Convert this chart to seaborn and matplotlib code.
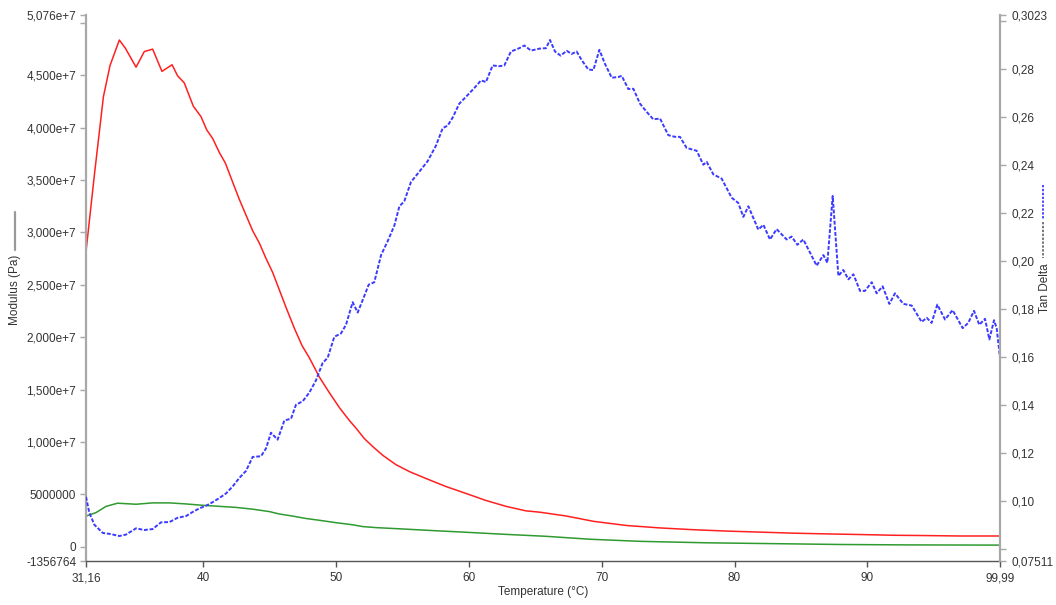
import numpy as np
import matplotlib
matplotlib.use("Agg")
import matplotlib.pyplot as plt
from matplotlib.lines import Line2D
from matplotlib.ticker import FixedLocator, FixedFormatter
import seaborn as sns

# ---------------- data ----------------
temp_storage = [31.16, 31.79, 32.47, 32.97, 33.67, 34.12, 34.93, 35.55, 36.18, 36.88,
                37.64, 38.06, 38.56, 39.24, 39.82, 40.25, 40.70, 41.20, 41.65, 42.20,
                42.71, 43.21, 43.71, 44.21, 44.72, 45.22, 45.72, 46.22, 46.85, 47.43,
                47.98, 48.73, 49.48, 50.24, 50.99, 51.49, 52.12, 52.75, 53.50, 54.50,
                55.51, 56.76, 58.27, 59.78, 61.28, 62.79, 64.29, 65.35, 67.36, 69.37,
                71.88, 74.39, 76.89, 79.40, 81.92, 84.43, 86.94, 89.45, 91.96, 94.47,
                96.98, 99.99]
storage_modulus = [28.17e6, 35.48e6, 42.95e6, 45.94e6, 48.37e6, 47.60e6, 45.78e6, 47.27e6, 47.50e6, 45.38e6,
                   46.01e6, 44.95e6, 44.28e6, 42.06e6, 41.06e6, 39.80e6, 38.97e6, 37.64e6, 36.64e6, 34.82e6,
                   33.15e6, 31.66e6, 30.17e6, 29.00e6, 27.51e6, 26.18e6, 24.52e6, 22.86e6, 20.86e6, 19.20e6,
                   18.04e6, 16.21e6, 14.72e6, 13.29e6, 12.06e6, 11.33e6, 10.33e6, 9.57e6, 8.74e6, 7.84e6,
                   7.18e6, 6.52e6, 5.75e6, 5.09e6, 4.42e6, 3.86e6, 3.43e6, 3.30e6, 2.93e6, 2.43e6,
                   2.03e6, 1.80e6, 1.63e6, 1.50e6, 1.40e6, 1.30e6, 1.23e6, 1.17e6, 1.10e6, 1.07e6,
                   1.03e6, 1.03e6]

temp_loss = [31.16, 31.91, 32.67, 33.54, 34.93, 36.18, 37.44, 38.69, 39.95, 41.20,
             42.46, 43.71, 44.97, 45.72, 46.72, 47.73, 48.73, 49.99, 51.24, 51.99,
             53.00, 55.01, 57.52, 60.03, 62.54, 65.80, 69.12, 72.88, 77.90, 82.92,
             87.94, 92.96, 99.99]
loss_modulus = [2.93e6, 3.26e6, 3.86e6, 4.16e6, 4.06e6, 4.19e6, 4.19e6, 4.09e6, 3.96e6, 3.86e6,
                3.76e6, 3.59e6, 3.36e6, 3.13e6, 2.93e6, 2.70e6, 2.53e6, 2.30e6, 2.10e6, 1.93e6,
                1.83e6, 1.70e6, 1.53e6, 1.37e6, 1.20e6, 1.00e6, 0.72e6, 0.52e6, 0.38e6, 0.30e6,
                0.22e6, 0.18e6, 0.16e6]

temp_tan = [31.16, 31.41, 31.79, 32.42, 33.04, 33.67, 34.17, 34.93, 35.55, 36.18,
            36.81, 37.44, 38.06, 38.69, 39.19, 39.69, 40.20, 40.70, 41.20, 41.70,
            42.20, 42.71, 43.21, 43.71, 44.34, 44.72, 45.09, 45.59, 46.10, 46.60,
            46.97, 47.48, 47.98, 48.48, 48.98, 49.36, 49.86, 50.36, 50.74, 51.24,
            51.62, 51.99, 52.45, 52.87, 53.38, 53.88, 54.38, 54.76, 55.13, 55.63,
            56.26, 56.89, 57.52, 58.02, 58.40, 58.77, 59.27, 59.78, 60.40, 60.91,
            61.28, 61.78, 62.29, 62.66, 63.16, 63.79, 64.17, 64.67, 65.30, 65.80,
            66.10, 66.48, 66.90, 67.36, 67.73, 68.11, 68.49, 68.99, 69.37, 69.82,
            70.24, 70.75, 71.25, 71.50, 72.00, 72.38, 72.88, 73.38, 73.88, 74.39,
            75.01, 75.52, 75.89, 76.39, 77.15, 77.65, 77.90, 78.40, 79.03, 79.78,
            80.28, 80.66, 81.04, 81.79, 82.17, 82.67, 83.17, 83.92, 84.30, 84.73,
            85.18, 86.18, 86.69, 86.99, 87.39, 87.82, 88.19, 88.57, 88.95, 89.45,
            89.82, 90.33, 90.70, 91.15, 91.66, 92.08, 92.71, 93.34, 94.09, 94.47,
            94.84, 95.27, 95.85, 96.42, 97.18, 97.60, 98.03, 98.43, 98.86, 99.19,
            99.54, 99.74, 99.99]
tan_delta = [0.1018, 0.0952, 0.0902, 0.0868, 0.0863, 0.0855, 0.0861, 0.0887, 0.0880, 0.0884,
             0.0912, 0.0913, 0.0931, 0.0938, 0.0955, 0.0970, 0.0981, 0.0996, 0.1013, 0.1032,
             0.1061, 0.1097, 0.1126, 0.1184, 0.1187, 0.1220, 0.1285, 0.1256, 0.1336, 0.1343,
             0.1401, 0.1416, 0.1452, 0.1503, 0.1575, 0.1597, 0.1684, 0.1698, 0.1734, 0.1828,
             0.1785, 0.1836, 0.1901, 0.1911, 0.2024, 0.2082, 0.2147, 0.2227, 0.2248, 0.2328,
             0.2371, 0.2415, 0.2480, 0.2552, 0.2563, 0.2596, 0.2654, 0.2683, 0.2719, 0.2751,
             0.2744, 0.2813, 0.2810, 0.2813, 0.2871, 0.2885, 0.2896, 0.2875, 0.2883, 0.2885,
             0.2919, 0.2871, 0.2854, 0.2874, 0.2861, 0.2871, 0.2835, 0.2796, 0.2794, 0.2878,
             0.2820, 0.2762, 0.2765, 0.2770, 0.2715, 0.2716, 0.2654, 0.2620, 0.2589, 0.2592,
             0.2523, 0.2516, 0.2516, 0.2470, 0.2458, 0.2400, 0.2412, 0.2360, 0.2342, 0.2263,
             0.2241, 0.2183, 0.2227, 0.2130, 0.2150, 0.2089, 0.2132, 0.2089, 0.2101, 0.2067,
             0.2089, 0.1980, 0.2024, 0.1992, 0.2270, 0.1937, 0.1962, 0.1923, 0.1944, 0.1875,
             0.1875, 0.1911, 0.1865, 0.1894, 0.1821, 0.1865, 0.1821, 0.1814, 0.1746, 0.1763,
             0.1742, 0.1818, 0.1756, 0.1795, 0.1720, 0.1742, 0.1792, 0.1734, 0.1759, 0.1673,
             0.1753, 0.1720, 0.1597]

x_ticks = [31.16, 40, 50, 60, 70, 80, 90, 99.99]
x_tick_labels = ["31,16", "40", "50", "60", "70", "80", "90", "99,99"]
left_ticks = [-1356764, 0, 5e6, 1e7, 1.5e7, 2e7, 2.5e7, 3e7, 3.5e7, 4e7, 4.5e7, 5e7, 5.076e7]
left_tick_labels = ["-1356764", "0", "5000000", "1,000e+7", "1,500e+7", "2,000e+7", "2,500e+7",
                    "3,000e+7", "3,500e+7", "4,000e+7", "4,500e+7", "", "5,076e+7"]
right_ticks = [0.07511, 0.08, 0.10, 0.12, 0.14, 0.16, 0.18, 0.20, 0.22, 0.24, 0.26, 0.28, 0.30, 0.3023]
right_tick_labels = ["0,07511", "", "0,10", "0,12", "0,14", "0,16", "0,18", "0,20", "0,22",
                     "0,24", "0,26", "0,28", "", "0,3023"]

x_label = "Temperature (°C)"
left_label = "Modulus (Pa)"
right_label = "Tan Delta"

# ---------------- style ----------------
sns.set_theme(style="white")
plt.rcParams["font.family"] = ["Liberation Sans", "DejaVu Sans"]

TEXT = "#333333"
AXIS_GRAY = "#a8a8a8"

fig = plt.figure(figsize=(10.56, 6.05), dpi=100)
ax = fig.add_axes([86 / 1056, 44 / 605, 914 / 1056, 546 / 605])
ax2 = ax.twinx()

sns.lineplot(x=temp_storage, y=storage_modulus, ax=ax, color="#ff2020", lw=1.1,
             sort=False, estimator=None)
sns.lineplot(x=temp_loss, y=loss_modulus, ax=ax, color="#2f9a2f", lw=1.1,
             sort=False, estimator=None)
sns.lineplot(x=temp_tan, y=tan_delta, ax=ax2, color="#3b3bff", lw=1.4,
             sort=False, estimator=None, linestyle=(0, (2.0, 0.9)))

ax.set_xlim(31.16, 99.99)
ax.set_ylim(-1356764, 5.076e7)
ax2.set_ylim(0.07511, 0.3023)

ax.xaxis.set_major_locator(FixedLocator(x_ticks))
ax.xaxis.set_major_formatter(FixedFormatter(x_tick_labels))
ax.yaxis.set_major_locator(FixedLocator(left_ticks))
ax.yaxis.set_major_formatter(FixedFormatter(left_tick_labels))
ax2.yaxis.set_major_locator(FixedLocator(right_ticks))
ax2.yaxis.set_major_formatter(FixedFormatter(right_tick_labels))

for a in (ax, ax2):
    a.set_facecolor("none")
    a.grid(False)
    a.spines["top"].set_visible(False)
ax.spines["right"].set_visible(False)
ax2.spines["left"].set_visible(False)
ax2.spines["bottom"].set_visible(False)
ax.spines["left"].set_color(AXIS_GRAY)
ax.spines["left"].set_linewidth(1.6)
ax.spines["bottom"].set_color("#555555")
ax.spines["bottom"].set_linewidth(1.0)
ax2.spines["right"].set_color(AXIS_GRAY)
ax2.spines["right"].set_linewidth(1.6)

ax.tick_params(axis="y", left=True, direction="out", length=4, width=1, color=AXIS_GRAY,
               labelsize=8.5, labelcolor=TEXT, pad=3)
ax.tick_params(axis="x", bottom=True, direction="out", length=4, width=1, color="#555555",
               labelsize=8.5, labelcolor=TEXT, pad=4)
ax2.tick_params(axis="y", right=True, direction="out", length=4, width=1, color=AXIS_GRAY,
                labelsize=8.5, labelcolor=TEXT, pad=4)

ax.set_xlabel(x_label, fontsize=8.5, color=TEXT, labelpad=1)
ax.set_ylabel("")
ax2.set_ylabel("")

# left axis title with a solid swatch
fig.text(15 / 1056, 1 - 290 / 605, left_label, rotation=90, ha="center", va="center",
         fontsize=8.5, color=TEXT)
fig.add_artist(Line2D([15 / 1056, 15 / 1056], [1 - 212 / 605, 1 - 250 / 605],
                      color="#999999", lw=1.6, transform=fig.transFigure))

# right axis title with dotted swatches
fig.text(1045 / 1056, 1 - 288 / 605, right_label, rotation=90, ha="center", va="center",
         fontsize=8.5, color=TEXT)
fig.add_artist(Line2D([1043 / 1056, 1043 / 1056], [1 - 185 / 605, 1 - 219 / 605],
                      color="#4a4aff", lw=1.4, linestyle=(0, (1.2, 0.8)),
                      transform=fig.transFigure))
fig.add_artist(Line2D([1043 / 1056, 1043 / 1056], [1 - 222 / 605, 1 - 258 / 605],
                      color="#777777", lw=1.4, linestyle=(0, (1.2, 0.8)),
                      transform=fig.transFigure))

fig.savefig("out.png", dpi=100, facecolor="white")
